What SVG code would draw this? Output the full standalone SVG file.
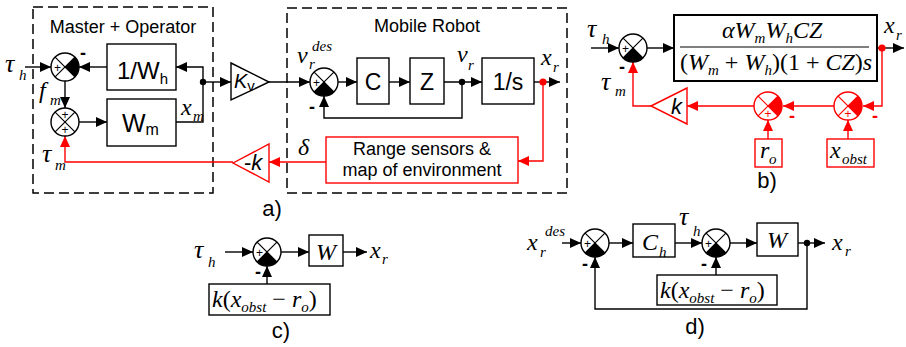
<svg xmlns="http://www.w3.org/2000/svg" xmlns:xlink="http://www.w3.org/1999/xlink" width="906" height="347" viewBox="0 0 906 347">
  <style>
    .ln { fill: none; stroke: #000; stroke-width: 1.4; }
    .rl { fill: none; stroke: #f00; stroke-width: 1.4; }
    .box { fill: #fff; stroke: #000; stroke-width: 1.4; }
    .rbox { fill: #fff; stroke: #f00; stroke-width: 1.4; }
    .dash { fill: none; stroke: #000; stroke-width: 1.5; stroke-dasharray: 10 5; }
    .sans { font-family: "Liberation Sans", Arial, sans-serif; fill: #000; }
    .m { font-family: "Liberation Serif", "Times New Roman", serif; font-style: italic; fill: #000; }
    .up { font-style: normal; }
    .ctr { text-anchor: middle; }
    .minus { font-family: "Liberation Sans", Arial, sans-serif; font-weight: bold; font-size: 18px; text-anchor: middle; }
  </style>
  <defs>
    <marker id="ah" markerUnits="userSpaceOnUse" markerWidth="12" markerHeight="10" refX="11" refY="5" orient="auto">
      <path d="M0,0 L11,5 L0,10 z" fill="#000"/>
    </marker>
    <marker id="ahr" markerUnits="userSpaceOnUse" markerWidth="12" markerHeight="10" refX="11" refY="5" orient="auto">
      <path d="M0,0 L11,5 L0,10 z" fill="#f00"/>
    </marker>
    <!-- summing junctions, centred on the origin -->
    <g id="sumA">
      <circle r="14" fill="#fff"/>
      <path d="M0,0 L9.9,-9.9 A14,14 0 0 1 9.9,9.9 Z" fill="#000"/>
      <path d="M-9.9,-9.9 L9.9,9.9 M-9.9,9.9 L9.9,-9.9" stroke="#000" stroke-width="1.2"/>
      <circle r="14" fill="none" stroke="#000" stroke-width="1.4"/>
      <text class="sans ctr" x="-7.5" y="4.5" font-size="12">+</text>
    </g>
    <g id="sumB">
      <circle r="14" fill="#fff"/>
      <path d="M-9.9,-9.9 L9.9,9.9 M-9.9,9.9 L9.9,-9.9" stroke="#000" stroke-width="1.2"/>
      <circle r="14" fill="none" stroke="#000" stroke-width="1.4"/>
      <text class="sans ctr" x="0" y="-3" font-size="12">+</text>
      <text class="sans ctr" x="0" y="12" font-size="12">+</text>
    </g>
    <g id="sumC">
      <circle r="14" fill="#fff"/>
      <path d="M0,0 L9.9,9.9 A14,14 0 0 1 -9.9,9.9 Z" fill="#000"/>
      <path d="M-9.9,-9.9 L9.9,9.9 M-9.9,9.9 L9.9,-9.9" stroke="#000" stroke-width="1.2"/>
      <circle r="14" fill="none" stroke="#000" stroke-width="1.4"/>
      <text class="sans ctr" x="-7.5" y="4.5" font-size="12">+</text>
    </g>
    <g id="sumD">
      <circle r="14" fill="#fff"/>
      <path d="M0,0 L9.9,-9.9 A14,14 0 0 1 9.9,9.9 Z" fill="#f00"/>
      <path d="M-9.9,-9.9 L9.9,9.9 M-9.9,9.9 L9.9,-9.9" stroke="#f00" stroke-width="1.2"/>
      <circle r="14" fill="none" stroke="#f00" stroke-width="1.4"/>
      <text class="sans ctr" x="0" y="12" font-size="12" fill="#f00" style="fill:#f00">+</text>
    </g>
  </defs>

  <rect width="906" height="347" fill="#fff"/>

  <!-- ===== a) teleoperation loop ===== -->
  <g id="master-operator">
    <rect class="dash" x="33" y="7" width="180" height="186"/>
    <text class="sans ctr" x="123" y="33" font-size="18">Master + Operator</text>
  </g>
  <g id="mobile-robot">
    <rect class="dash" x="287" y="8" width="280" height="185"/>
    <text class="sans ctr" x="427" y="32" font-size="18">Mobile Robot</text>
  </g>

  <g id="connectors-a">
    <path class="ln" d="M25,67 H51" marker-end="url(#ah)"/>
    <path class="ln" d="M107,67 H79" marker-end="url(#ah)"/>
    <path class="ln" d="M65,81 V108" marker-end="url(#ah)"/>
    <path class="ln" d="M79,122 H107" marker-end="url(#ah)"/>
    <path class="ln" d="M176,122 H203 V67 H176" marker-end="url(#ah)"/>
    <path class="ln" d="M203,82 H231" marker-end="url(#ah)"/>
    <path class="ln" d="M269,82 H310" marker-end="url(#ah)"/>
    <path class="ln" d="M338,82 H357" marker-end="url(#ah)"/>
    <path class="ln" d="M389,82 H410" marker-end="url(#ah)"/>
    <path class="ln" d="M444,82 H482" marker-end="url(#ah)"/>
    <path class="ln" d="M462,82 V118 H324 V96" marker-end="url(#ah)"/>
    <path class="ln" d="M534,82 H560" marker-end="url(#ah)"/>
    <path class="rl" d="M543,82 V161 H518" marker-end="url(#ahr)"/>
    <path class="rl" d="M326,162 H269" marker-end="url(#ahr)"/>
    <path class="rl" d="M233,162 H65 V136" marker-end="url(#ahr)"/>
    <circle cx="203" cy="82" r="3.2" fill="#000"/>
    <circle cx="462" cy="82" r="3.2" fill="#000"/>
    <circle cx="543" cy="82" r="3.6" fill="#f00"/>
  </g>

  <g id="sum-a1"><use xlink:href="#sumA" x="65" y="67"/><text class="minus" x="83" y="59">-</text></g>
  <g id="sum-a2"><use xlink:href="#sumB" x="65" y="122"/></g>
  <g id="sum-a3"><use xlink:href="#sumC" x="324" y="82"/><text class="minus" x="312" y="113">-</text></g>

  <g id="block-inv-wh">
    <rect class="box" x="107" y="44" width="69" height="46"/>
    <text class="sans" x="117" y="79" font-size="24">1/W<tspan font-size="15" dy="5">h</tspan></text>
  </g>
  <g id="block-wm">
    <rect class="box" x="107" y="99" width="69" height="47"/>
    <text class="sans" x="122" y="132" font-size="25">W<tspan font-size="16" dy="3">m</tspan></text>
  </g>
  <g id="gain-kv">
    <polygon points="231,63 269,82 231,100" fill="#fff" stroke="#000" stroke-width="1.4"/>
    <text class="sans" x="234" y="88" font-size="20" font-style="italic">K<tspan font-style="normal" font-size="15" dy="3">v</tspan></text>
  </g>
  <g id="block-c">
    <rect class="box" x="357" y="58" width="32" height="46"/>
    <text class="sans ctr" x="373" y="90" font-size="23">C</text>
  </g>
  <g id="block-z">
    <rect class="box" x="410" y="58" width="34" height="46"/>
    <text class="sans ctr" x="427" y="90" font-size="23">Z</text>
  </g>
  <g id="block-integrator">
    <rect class="box" x="482" y="58" width="52" height="46"/>
    <text class="sans ctr" x="508" y="90" font-size="23">1/s</text>
  </g>
  <g id="range-sensors">
    <rect class="rbox" x="326" y="137" width="192" height="46"/>
    <text class="sans ctr" x="422" y="155" font-size="18">Range sensors &amp;</text>
    <text class="sans ctr" x="422" y="176" font-size="18">map of environment</text>
  </g>
  <g id="gain-neg-k">
    <polygon points="233,163 269,144 269,182" fill="#fff" stroke="#f00" stroke-width="1.4"/>
    <text class="sans" x="244" y="170" font-size="22">-<tspan font-style="italic">k</tspan></text>
  </g>

  <g id="labels-a">
    <text class="m" x="5" y="72" font-size="26">τ</text>
    <text class="m" x="19" y="80" font-size="15">h</text>
    <text class="m" x="39" y="98" font-size="24">f</text>
    <text class="m" x="50" y="105" font-size="15">m</text>
    <text class="m" x="42" y="162" font-size="26">τ</text>
    <text class="m" x="55" y="170" font-size="15">m</text>
    <text class="m" x="181" y="115" font-size="24">x</text>
    <text class="m" x="193" y="121" font-size="15">m</text>
    <text class="m" x="297" y="63" font-size="24">v</text>
    <text class="m" x="309" y="69" font-size="15">r</text>
    <text class="m" x="312" y="51" font-size="15">des</text>
    <text class="m" x="457" y="62" font-size="24">v</text>
    <text class="m" x="468" y="70" font-size="15">r</text>
    <text class="m" x="541" y="65" font-size="24">x</text>
    <text class="m" x="553" y="72" font-size="15">r</text>
    <text class="m" x="298" y="155" font-size="24">δ</text>
    <text class="sans ctr" x="272" y="216" font-size="22">a)</text>
  </g>

  <!-- ===== b) reduced loop with obstacle feedback ===== -->
  <g id="connectors-b">
    <path class="ln" d="M591,48 H619" marker-end="url(#ah)"/>
    <path class="ln" d="M647,48 H674" marker-end="url(#ah)"/>
    <path class="ln" d="M877,48 H904" marker-end="url(#ah)"/>
    <path class="rl" d="M882,48 V106 H863" marker-end="url(#ahr)"/>
    <path class="rl" d="M834,106 H783" marker-end="url(#ahr)"/>
    <path class="rl" d="M754,106 H687" marker-end="url(#ahr)"/>
    <path class="rl" d="M651,106 H633 V62" marker-end="url(#ahr)"/>
    <path class="rl" d="M768,139 V120" marker-end="url(#ahr)"/>
    <path class="rl" d="M848,139 V120" marker-end="url(#ahr)"/>
    <circle cx="882" cy="48" r="3.6" fill="#f00"/>
  </g>
  <g id="sum-b1"><use xlink:href="#sumC" x="633" y="48"/><text class="minus" x="622" y="73">-</text></g>
  <g id="sum-b2"><use xlink:href="#sumD" x="768" y="106"/><text class="minus" x="792" y="122" fill="#f00">-</text></g>
  <g id="sum-b3"><use xlink:href="#sumD" x="848" y="106"/><text class="minus" x="875" y="122" fill="#f00">-</text></g>
  <g id="block-closed-loop">
    <rect x="674" y="15" width="203" height="66" fill="#fff" stroke="#000" stroke-width="2"/>
    <text class="m" x="722" y="38" font-size="24">α<tspan>W</tspan><tspan font-size="15" dy="5">m</tspan><tspan dy="-5">W</tspan><tspan font-size="15" dy="5">h</tspan><tspan dy="-5">CZ</tspan></text>
    <line x1="680" y1="47" x2="869" y2="47" stroke="#000" stroke-width="1.2"/>
    <text class="m" x="680" y="70" font-size="24"><tspan class="up">(</tspan>W<tspan font-size="15" dy="5">m</tspan><tspan class="up" dy="-5"> + </tspan>W<tspan font-size="15" dy="5">h</tspan><tspan class="up" dy="-5">)(1 + </tspan>CZ<tspan class="up">)</tspan>s</text>
  </g>
  <g id="gain-k">
    <polygon points="651,106 687,88 687,124" fill="#fff" stroke="#f00" stroke-width="1.4"/>
    <text class="sans" x="671" y="114" font-size="22" font-style="italic">k</text>
  </g>
  <g id="block-ro">
    <rect class="rbox" x="755" y="139" width="27" height="28"/>
    <text class="m" x="760" y="158" font-size="24">r</text>
    <text class="m" x="769" y="164" font-size="15">o</text>
  </g>
  <g id="block-xobst">
    <rect class="rbox" x="827" y="139" width="47" height="28"/>
    <text class="m" x="830" y="158" font-size="24">x</text>
    <text class="m" x="842" y="164" font-size="15">obst</text>
  </g>
  <g id="labels-b">
    <text class="m" x="587" y="37" font-size="26">τ</text>
    <text class="m" x="602" y="44" font-size="15">h</text>
    <text class="m" x="601" y="90" font-size="26">τ</text>
    <text class="m" x="615" y="96" font-size="15">m</text>
    <text class="m" x="884" y="33" font-size="24">x</text>
    <text class="m" x="896" y="40" font-size="15">r</text>
    <text class="sans ctr" x="767" y="188" font-size="22">b)</text>
  </g>

  <!-- ===== c) open loop ===== -->
  <g id="connectors-c">
    <path class="ln" d="M225,252 H253" marker-end="url(#ah)"/>
    <path class="ln" d="M281,252 H309" marker-end="url(#ah)"/>
    <path class="ln" d="M343,252 H367" marker-end="url(#ah)"/>
    <path class="ln" d="M267,284 V266" marker-end="url(#ah)"/>
  </g>
  <g id="sum-c"><use xlink:href="#sumC" x="267" y="252"/><text class="minus" x="258" y="278">-</text></g>
  <g id="block-w-c">
    <rect class="box" x="309" y="235" width="34" height="31"/>
    <text class="m ctr" x="326" y="260" font-size="24">W</text>
  </g>
  <g id="block-obst-c">
    <rect class="box" x="209" y="284" width="121" height="31"/>
    <text class="m" x="212" y="307" font-size="24">k<tspan class="up">(</tspan>x<tspan font-size="15" dy="5">obst</tspan><tspan class="up" dy="-5"> − </tspan>r<tspan font-size="15" dy="5">o</tspan><tspan class="up" dy="-5">)</tspan></text>
  </g>
  <g id="labels-c">
    <text class="m" x="194" y="258" font-size="26">τ</text>
    <text class="m" x="208" y="267" font-size="15">h</text>
    <text class="m" x="370" y="258" font-size="24">x</text>
    <text class="m" x="382" y="264" font-size="15">r</text>
    <text class="sans ctr" x="281" y="338" font-size="22">c)</text>
  </g>

  <!-- ===== d) closed position loop ===== -->
  <g id="connectors-d">
    <path class="ln" d="M562,243 H581" marker-end="url(#ah)"/>
    <path class="ln" d="M609,243 H633" marker-end="url(#ah)"/>
    <path class="ln" d="M675,243 H702" marker-end="url(#ah)"/>
    <path class="ln" d="M730,243 H757" marker-end="url(#ah)"/>
    <path class="ln" d="M798,243 H825" marker-end="url(#ah)"/>
    <path class="ln" d="M807,243 V309 H595 V257" marker-end="url(#ah)"/>
    <path class="ln" d="M716,275 V257" marker-end="url(#ah)"/>
    <circle cx="807" cy="243" r="3.2" fill="#000"/>
  </g>
  <g id="sum-d1"><use xlink:href="#sumC" x="595" y="243"/><text class="minus" x="585" y="270">-</text></g>
  <g id="sum-d2"><use xlink:href="#sumC" x="716" y="243"/><text class="minus" x="704" y="270">-</text></g>
  <g id="block-ch">
    <rect class="box" x="633" y="224" width="42" height="33"/>
    <text class="m" x="642" y="250" font-size="24">C</text>
    <text class="m" x="659" y="257" font-size="15">h</text>
  </g>
  <g id="block-w-d">
    <rect class="box" x="757" y="223" width="41" height="33"/>
    <text class="m ctr" x="777" y="248" font-size="24">W</text>
  </g>
  <g id="block-obst-d">
    <rect class="box" x="657" y="275" width="120" height="30"/>
    <text class="m" x="660" y="298" font-size="24">k<tspan class="up">(</tspan>x<tspan font-size="15" dy="5">obst</tspan><tspan class="up" dy="-5"> − </tspan>r<tspan font-size="15" dy="5">o</tspan><tspan class="up" dy="-5">)</tspan></text>
  </g>
  <g id="labels-d">
    <text class="m" x="527" y="250" font-size="24">x</text>
    <text class="m" x="540" y="257" font-size="15">r</text>
    <text class="m" x="545" y="236" font-size="15">des</text>
    <text class="m" x="679" y="225" font-size="26">τ</text>
    <text class="m" x="693" y="236" font-size="15">h</text>
    <text class="m" x="832" y="250" font-size="24">x</text>
    <text class="m" x="845" y="256" font-size="15">r</text>
    <text class="sans ctr" x="695" y="334" font-size="22">d)</text>
  </g>
</svg>
